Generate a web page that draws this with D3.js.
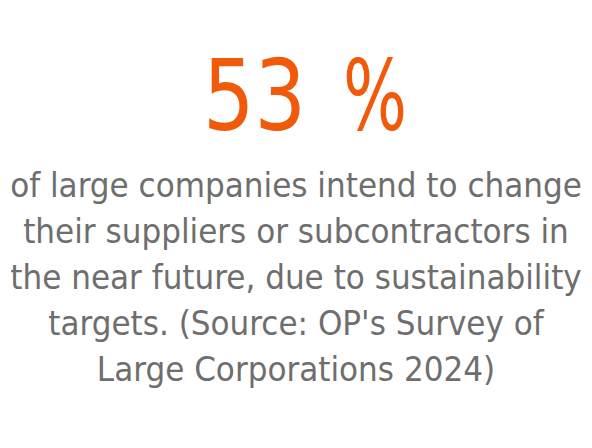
<!DOCTYPE html>
<html><head><meta charset="utf-8">
<script src="https://cdn.jsdelivr.net/npm/d3@7"></script>
<style>html,body{margin:0;padding:0;background:#fff;overflow:hidden}</style>
</head><body>
<script>
const headline = ["53", "%"];
const bodyLines = [
  "of large companies intend to change",
  "their suppliers or subcontractors in",
  "the near future, due to sustainability",
  "targets. (Source: OP's Survey of",
  "Large Corporations 2024)"
];
const W = 592, H = 448;
const svg = d3.select("body").append("svg").attr("width", W).attr("height", H);
const font = "'DejaVu Sans Condensed', 'DejaVu Sans', sans-serif";
const cx = 296;

svg.selectAll("text.big").data(headline).join("text")
  .attr("class","big")
  .attr("x", (d,i) => i === 0 ? 203 : 343)
  .attr("y", 130)
  .attr("textLength", (d,i) => i === 0 ? 103 : 64)
  .attr("lengthAdjust", "spacingAndGlyphs")
  .attr("font-family", font)
  .attr("font-size", 98)
  .attr("fill", "#f05a0a")
  .text(d => d);

const y = d3.scaleLinear().domain([0, bodyLines.length - 1]).range([197, 381]);
const lines = svg.selectAll("text.body").data(bodyLines).join("text")
  .attr("class","body")
  .attr("x", cx).attr("y", (d,i) => y(i))
  .attr("text-anchor","middle")
  .attr("font-family", font)
  .attr("font-size", 32)
  .attr("fill", "#6e6e6e")
  .text(d => d);
const w0 = lines.nodes()[0].getComputedTextLength();
lines.attr("font-size", 32 * 572 / w0);
</script>
</body></html>
